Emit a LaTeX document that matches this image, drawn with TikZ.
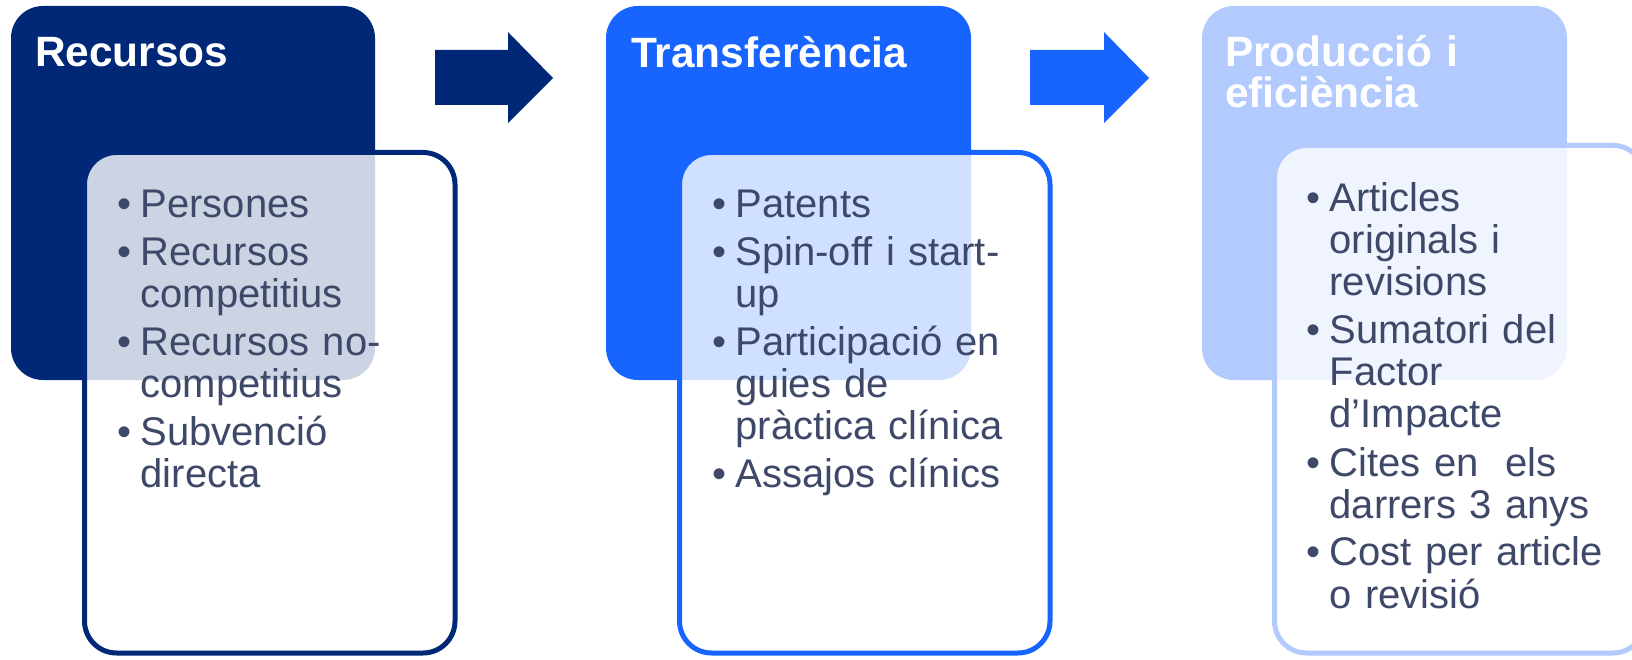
\documentclass[tikz,border=0pt]{standalone}
\usepackage{fontspec}
\setmainfont{Liberation Sans}
\definecolor{cdark}{RGB}{0,40,118}
\definecolor{cmid}{RGB}{23,100,255}
\definecolor{clight}{RGB}{178,202,253}
\definecolor{ctext}{RGB}{62,72,104}
\newcommand{\bl}{\makebox[23pt][l]{•}}
\newcommand{\cnt}{\hspace*{23pt}}
\tikzset{
  outerbox/.style={rounded corners=32pt},
  innerbox/.style={rounded corners=32pt, line width=5pt, fill=white, fill opacity=0.8},
  titletext/.style={text=white, inner sep=0pt, anchor=base west, text width=340pt,
    font=\fontsize{42.4}{41}\selectfont\bfseries},
  bodytext/.style={text=ctext, inner sep=0pt, anchor=base west, text width=330pt,
    font=\fontsize{40}{42}\selectfont},
  blockarrow/.style={draw=none}
}
\begin{document}
\begin{tikzpicture}[x=1pt,y=-1pt]
\useasboundingbox (0,0) rectangle (1632,660);
\clip (0,0) rectangle (1632,660);
% outer boxes
\fill[outerbox, cdark] (11,6) rectangle (375,380);
\fill[outerbox, cmid] (606,6) rectangle (971,380);
\fill[outerbox, clight] (1202,6) rectangle (1567,380);
% inner boxes
\draw[innerbox, draw=cdark] (84.5,152.5) rectangle (455,653);
\draw[innerbox, draw=cmid] (679.5,152.5) rectangle (1050,653);
\draw[innerbox, draw=clight] (1274.5,145.5) rectangle (1645,653);
% block arrows
\fill[blockarrow, cdark] (435,50) -- (508,50) -- (508,32) -- (553,78) -- (508,123) -- (508,105) -- (435,105) -- cycle;
\fill[blockarrow, cmid] (1030,50) -- (1104,50) -- (1104,32) -- (1149,78) -- (1104,123) -- (1104,105) -- (1030,105) -- cycle;
% titles
\node[titletext] (t1) at (35,67) {Recursos};
\node[titletext] (t2) at (631,68) {Transferència};
\node[titletext] (t3) at (1225,67) {\lineskiplimit=-100pt\relax Producció i\\eficiència};
% bodies
\node[bodytext] (b1) at (117.4,218) {\lineskiplimit=-100pt\relax
\bl Persones\\[6pt]
\bl Recursos\\\cnt competitius\\[6pt]
\bl Recursos no-\\\cnt competitius\\[6pt]
\bl Subvenció\\\cnt directa};
\node[bodytext] (b2) at (712.4,218) {\lineskiplimit=-100pt\relax
\bl Patents\\[6pt]
\bl Spin-off i start-\\\cnt up\\[6pt]
\bl Participació en\\\cnt guies de\\\cnt pràctica clínica\\[6pt]
\bl Assajos clínics};
\node[bodytext] (b3) at (1306.4,212) {\lineskiplimit=-100pt\relax
\bl Articles\\\cnt originals i\\\cnt revisions\\[6pt]
\bl Sumatori del\\\cnt Factor\\\cnt d’Impacte\\[6pt]
\bl Cites en\ \ els\\\cnt darrers 3 anys\\[6pt]
\bl Cost per article\\\cnt o revisió};
\end{tikzpicture}
\end{document}
